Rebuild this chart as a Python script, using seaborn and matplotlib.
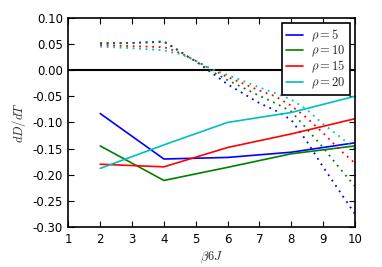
import matplotlib
matplotlib.use("Agg")
import matplotlib.pyplot as plt
import seaborn as sns

# solid curves, sampled at even beta*6J
x_solid = [2, 4, 6, 8, 10]
solid_rho5 = [-0.083, -0.170, -0.167, -0.157, -0.139]
solid_rho10 = [-0.145, -0.211, -0.186, -0.160, -0.145]
solid_rho15 = [-0.180, -0.185, -0.148, -0.122, -0.093]
solid_rho20 = [-0.188, -0.143, -0.100, -0.081, -0.050]

# dotted curves
x_dot = [2, 3, 4, 4.25, 4.5, 4.75, 5, 5.5, 6, 6.5, 7, 7.5, 8, 8.5, 9, 9.5, 10]
dot_rho5 = [0.051, 0.052, 0.055, 0.045, 0.036, 0.026, 0.017, -0.005, -0.027,
            -0.045, -0.063, -0.077, -0.095, -0.137, -0.185, -0.230, -0.275]
dot_rho10 = [0.052, 0.052, 0.054, 0.046, 0.036, 0.026, 0.017, -0.002, -0.019,
             -0.034, -0.049, -0.063, -0.079, -0.113, -0.148, -0.186, -0.222]
dot_rho15 = [0.048, 0.046, 0.044, 0.039, 0.033, 0.026, 0.018, 0.001, -0.013,
             -0.026, -0.039, -0.050, -0.068, -0.092, -0.120, -0.151, -0.178]
dot_rho20 = [0.045, 0.042, 0.038, 0.034, 0.031, 0.025, 0.018, 0.002, -0.009,
             -0.021, -0.033, -0.044, -0.056, -0.076, -0.103, -0.126, -0.151]

labels = [r"$\rho=5$", r"$\rho=10$", r"$\rho=15$", r"$\rho=20$"]
colors = ["#0000ff", "#008000", "#ff0000", "#00bfbf"]

sns.set_style("ticks")
plt.rcParams["font.family"] = ["DejaVu Sans"]
plt.rcParams["mathtext.fontset"] = "cm"
plt.rcParams["xtick.direction"] = "in"
plt.rcParams["ytick.direction"] = "in"

fig = plt.figure(figsize=(3.82, 2.67), dpi=100)
ax = fig.add_axes([0.179, 0.150, 0.750, 0.783])

ax.axhline(0, color="black", lw=1.5, zorder=1)

solids = [solid_rho5, solid_rho10, solid_rho15, solid_rho20]
dots = [dot_rho5, dot_rho10, dot_rho15, dot_rho20]
for ys, yd, lab, col in zip(solids, dots, labels, colors):
    sns.lineplot(x=x_solid, y=ys, color=col, lw=1.2, ax=ax, label=lab)
    sns.lineplot(x=x_dot, y=yd, color=col, lw=1.3, ax=ax,
                 linestyle=(0, (1, 2.6)))

ax.set_xlim(1, 10)
ax.set_ylim(-0.30, 0.10)
ax.set_xticks(range(1, 11))
ax.set_yticks([-0.30, -0.25, -0.20, -0.15, -0.10, -0.05, 0.0, 0.05, 0.10])
ax.set_yticklabels(["-0.30", "-0.25", "-0.20", "-0.15", "-0.10", "-0.05",
                    "0.00", "0.05", "0.10"])
ax.tick_params(axis="both", which="both", direction="in", length=4,
               width=0.8, top=True, right=True, labelsize=8.5, pad=4,
               colors="black")
for sp in ax.spines.values():
    sp.set_visible(True)
    sp.set_linewidth(1.2)
    sp.set_color("black")

ax.set_xlabel(r"$\beta6J$", fontsize=9, labelpad=3)
ax.set_ylabel(r"$dD/dT$", fontsize=9, labelpad=3)

leg = ax.legend(loc="upper right", fontsize=9, handlelength=1.4,
                handletextpad=0.6, borderpad=0.35, labelspacing=0.0,
                borderaxespad=0.4, fancybox=False, frameon=True)
leg.get_frame().set_edgecolor("black")
leg.get_frame().set_linewidth(1.2)
leg.get_frame().set_alpha(1)

fig.savefig("out.png", dpi=100)
